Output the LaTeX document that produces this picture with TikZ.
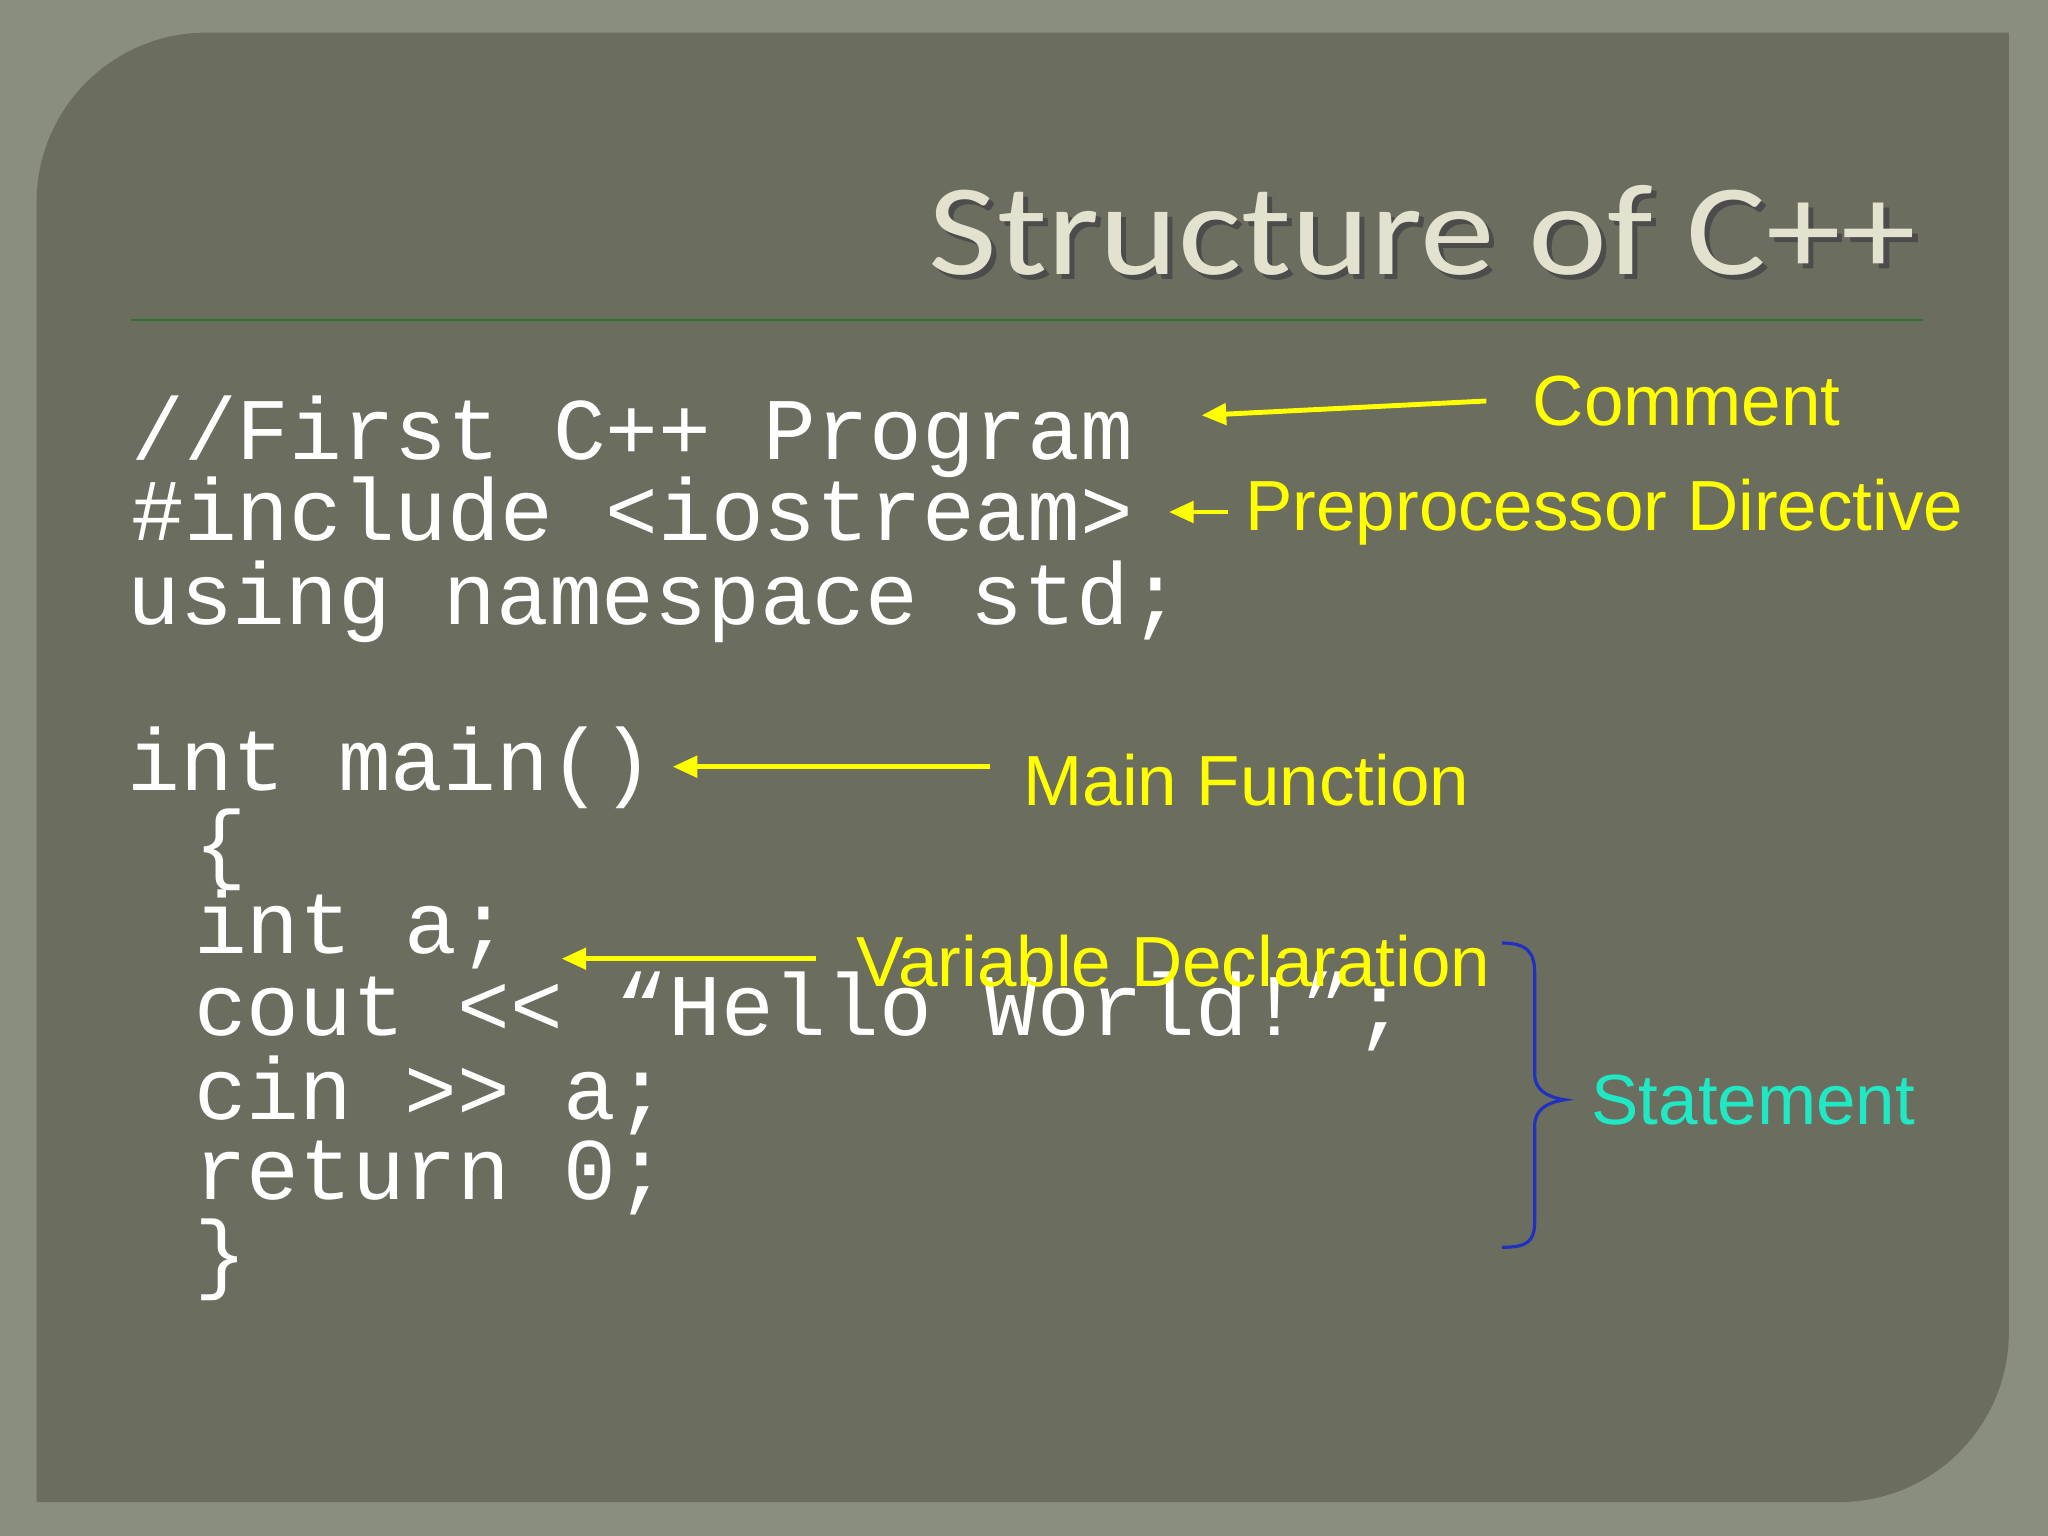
\documentclass[tikz,border=0pt]{standalone}
\usepackage{fontspec}
\setmainfont{Liberation Sans}
\newfontfamily\codefont{Liberation Mono}
\newfontfamily\titlefont{Carlito}
\usetikzlibrary{arrows.meta}
\definecolor{frame}{HTML}{8A8E7C}
\definecolor{panel}{HTML}{6B6D5E}
\definecolor{ttl}{HTML}{E2E2CE}
\definecolor{lbl}{HTML}{FFFF00}
\definecolor{stm}{HTML}{20E8C4}
\definecolor{brc}{HTML}{2030C0}
\tikzset{
 code/.style={anchor=base west,inner sep=0pt,text=white,font=\codefont\fontsize{25}{28}\selectfont},
 lab/.style={anchor=west,inner sep=0pt,text=lbl,font=\fontsize{20.2}{24}\selectfont},
 arr/.style={draw=lbl,line width=1.4pt,-{Triangle[length=7pt,width=6pt]}}
}
\begin{document}
\begin{tikzpicture}[x=0.01306cm,y=-0.01306cm]
\fill[frame] (0,0) rectangle (1568,1176);
\useasboundingbox (0,0) rectangle (1568,1176);
\fill[panel] (28,155) arc[start angle=180,end angle=270,radius=130] -- (1538,25) -- (1538,1020) arc[start angle=0,end angle=90,radius=130] -- (28,1150) -- cycle;
\node[anchor=base east,inner sep=0pt,xscale=1.15,text=black!70,font=\titlefont\fontsize{37}{40}\selectfont] at (1472,214) {Structure of C++};
\node[anchor=base east,inner sep=0pt,xscale=1.15,text=ttl,font=\titlefont\fontsize{37}{40}\selectfont] (title) at (1468,210) {Structure of C++};
\draw[draw=black!60!green!60!gray,line width=0.7pt] (100,245) -- (1472,245);
\node[code] (c1) at (100,352) {//First C++ Program};
\node[code] (c2) at (100,414) {\#include <iostream>};
\node[code] (c3) at (97,478) {using namespace std;};
\node[code] (c4) at (97,605) {int main()};
\node[code] (c5) at (148,668) {\{};
\node[code] (c6) at (148,730) {int a;};
\node[code] (c7) at (148,793) {cout << “Hello World!”;};
\node[code] (c8) at (148,857) {cin >> a;};
\node[code] (c9) at (148,918) {return 0;};
\node[code] (c10) at (148,982) {\}};
\node[lab] (l1) at (1173,307) {Comment};
\node[lab] (l2) at (953,392) {Preprocessor Directive};
\node[lab] (l3) at (783,597) {Main Function};
\node[lab] (l4) at (655,736) {Variable Declaration};
\node[anchor=west,inner sep=0pt,text=stm,font=\fontsize{20.2}{24}\selectfont] (l5) at (1218,842) {Statement};
\coordinate (a1) at (920,318); \coordinate (a2) at (895,392);
\coordinate (a3) at (515,587); \coordinate (a4) at (430,734);
\draw[arr] (1138,307) -- (a1);
\draw[arr] (940,392) -- (a2);
\draw[arr] (758,587) -- (a3);
\draw[arr] (625,734) -- (a4);
\draw[brc,line width=0.9pt] (1150,722) .. controls (1170,722) and (1175,730) .. (1175,745) -- (1175,822) .. controls (1175,835) and (1185,840) .. (1198,842) .. controls (1185,844) and (1175,849) .. (1175,862) -- (1175,935) .. controls (1175,950) and (1170,955) .. (1150,955);
\end{tikzpicture}
\end{document}
